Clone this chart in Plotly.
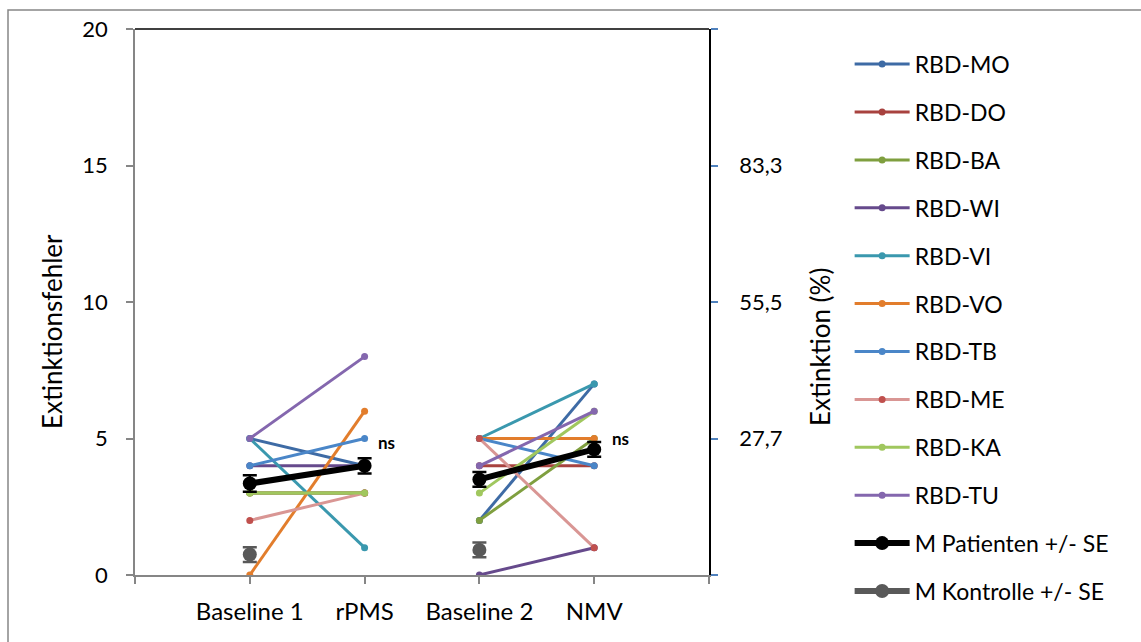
import plotly.graph_objects as go

# ---- data ----
categories = ["", "Baseline 1", "rPMS", "Baseline 2", "NMV", ""]
series_names = ["RBD-MO", "RBD-DO", "RBD-BA", "RBD-WI", "RBD-VI",
                "RBD-VO", "RBD-TB", "RBD-ME", "RBD-KA", "RBD-TU"]
# values per phase: Baseline 1, rPMS, Baseline 2, NMV
rbd_mo = [5, 4, 2, 7]
rbd_do = [3, 3, 4, 4]
rbd_ba = [3, 3, 2, 5]
rbd_wi = [4, 4, 0, 1]
rbd_vi = [5, 1, 5, 7]
rbd_vo = [0, 6, 5, 5]
rbd_tb = [4, 5, 5, 4]
rbd_me = [2, 3, 5, 1]
rbd_ka = [3, 3, 3, 6]
rbd_tu = [5, 8, 4, 6]
mean_patients = [3.35, 4.0, 3.5, 4.6]
se_patients = [0.3, 0.28, 0.27, 0.27]
mean_control = [0.75, None, 0.92, None]
se_control = [0.27, None, 0.27, None]

right_tick_values = [0, 5, 10, 15, 20]
right_tick_labels = ["", "27,7", "55,5", "83,3", ""]
sig_labels = ["ns", "ns"]
sig_y = [4.85, 5.0]

line_colors = ["#3E6BA5", "#A8423F", "#7F9F3F", "#664A8C", "#3A98AE",
               "#E27D2C", "#4A86C8", "#D99694", "#A0C75E", "#8467AE"]
marker_colors = ["#3E6BA5", "#A8423F", "#7F9F3F", "#664A8C", "#3A98AE",
                 "#E27D2C", "#4A86C8", "#C0504D", "#A0C75E", "#8467AE"]
all_values = [rbd_mo, rbd_do, rbd_ba, rbd_wi, rbd_vi,
              rbd_vo, rbd_tb, rbd_me, rbd_ka, rbd_tu]

FONT = "Lato, Carlito, Calibri, sans-serif"

# positions of the four phases on the axis (index within categories)
phase_pos = [categories.index("Baseline 1"), categories.index("rPMS"),
             categories.index("Baseline 2"), categories.index("NMV")]


def split(vals):
    """Insert a gap between the two blocks (Baseline1-rPMS, Baseline2-NMV)."""
    xs = [phase_pos[0], phase_pos[1], None, phase_pos[2], phase_pos[3]]
    ys = [vals[0], vals[1], None, vals[2], vals[3]]
    return xs, ys


fig = go.Figure()

for name, vals, lc, mc in zip(series_names, all_values, line_colors, marker_colors):
    xs, ys = split(vals)
    fig.add_trace(go.Scatter(
        x=xs, y=ys, name=name, mode="lines+markers",
        line=dict(color=lc, width=3),
        marker=dict(color=mc, size=7),
        legendgroup=name,
    ))

xs, ys = split(mean_patients)
_, es = split(se_patients)
fig.add_trace(go.Scatter(
    x=xs, y=ys, name="M Patienten +/- SE", mode="lines+markers",
    line=dict(color="black", width=6),
    marker=dict(color="black", size=14),
    error_y=dict(type="data", array=es, color="black", thickness=2.5, width=7),
    legendgroup="mp",
))

xs, ys = split(mean_control)
_, es = split(se_control)
fig.add_trace(go.Scatter(
    x=xs, y=ys, name="M Kontrolle +/- SE", mode="lines+markers",
    line=dict(color="#595959", width=6),
    marker=dict(color="#595959", size=14),
    error_y=dict(type="data", array=es, color="#595959", thickness=2.5, width=7),
    legendgroup="mk",
))

# invisible trace to activate the right axis
fig.add_trace(go.Scatter(x=[None], y=[None], yaxis="y2", showlegend=False,
                         hoverinfo="skip"))

# "ns" labels next to rPMS and NMV means
for pos, yv, lab, xs_ in zip([phase_pos[1], phase_pos[3]], sig_y, sig_labels, [11, 16]):
    fig.add_annotation(x=pos, y=yv, text="<b>" + lab + "</b>",
                       showarrow=False, xanchor="left", yanchor="middle",
                       xshift=xs_,
                       font=dict(family=FONT, size=17, color="black"))

fig.update_layout(
    width=1141, height=642,
    margin=dict(l=135, r=432, t=29, b=67, autoexpand=False),
    paper_bgcolor="white", plot_bgcolor="white",
    font=dict(family=FONT, size=22, color="black"),
    showlegend=True,
    legend=dict(
        x=1.245, xanchor="left", y=0.975, yanchor="top",
        font=dict(family=FONT, size=23, color="black"),
        tracegroupgap=15, itemwidth=55, bgcolor="rgba(0,0,0,0)",
        maxheight=640,
    ),
    xaxis=dict(
        range=[0, len(categories) - 1], tickmode="array",
        tickvals=list(range(len(categories))), ticktext=categories,
        showgrid=False, zeroline=False, showline=True,
        linecolor="#868686", linewidth=1.5, ticks="outside", ticklen=7,
        tickcolor="#868686", tickwidth=1.5,
        tickfont=dict(family=FONT, size=24, color="black"),
        ticklabelstandoff=7,
    ),
    yaxis=dict(
        range=[0, 20], tickvals=[0, 5, 10, 15, 20],
        showgrid=False, zeroline=False, showline=True,
        linecolor="#868686", linewidth=1.5, ticks="outside", ticklen=7,
        tickcolor="#868686", tickwidth=1.5,
        tickfont=dict(family=FONT, size=22, color="black"),
        ticklabelstandoff=14,
    ),
    yaxis2=dict(
        range=[0, 20], overlaying="y", side="right",
        tickmode="array", tickvals=right_tick_values, ticktext=right_tick_labels,
        showgrid=False, zeroline=False, showline=True,
        linecolor="black", linewidth=1.5, ticks="outside", ticklen=7,
        tickcolor="#4F81BD", tickwidth=1.5,
        tickfont=dict(family=FONT, size=22, color="black"),
        ticklabelstandoff=17,
    ),
    shapes=[
        # top border of plot area
        dict(type="line", xref="paper", yref="paper", x0=0, x1=1, y0=1, y1=1,
             line=dict(color="black", width=1.5)),
        # outer chart frame
        dict(type="rect", xref="paper", yref="paper",
             x0=(8 - 135) / 574, x1=(1160 - 135) / 574,
             y0=(575 - 660) / 546, y1=(575 - 10) / 546,
             line=dict(color="#868686", width=1.5), layer="below"),
    ],
)

# axis titles
fig.add_annotation(xref="paper", yref="paper", x=(52 - 135) / 574,
                   y=(575 - 332) / 546, text="Extinktionsfehler", textangle=-90,
                   xanchor="center", yanchor="middle",
                   showarrow=False, font=dict(family=FONT, size=26, color="black"))
fig.add_annotation(xref="paper", yref="paper", x=(820 - 135) / 574,
                   y=(575 - 347) / 546, text="Extinktion (%)", textangle=-90,
                   xanchor="center", yanchor="middle",
                   showarrow=False, font=dict(family=FONT, size=26, color="black"))

fig.write_html("out.html",
               config={"displayModeBar": False},
               post_script="document.body.style.margin='0';"
                           "document.body.style.padding='0';")
